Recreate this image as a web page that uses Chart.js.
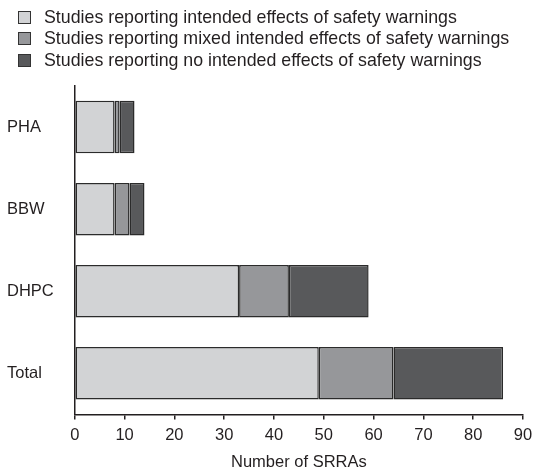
<!DOCTYPE html>
<html>
<head>
<meta charset="utf-8">
<script src="https://cdn.jsdelivr.net/npm/chart.js@4"></script>
<style>
    html, body { margin: 0; padding: 0; background: #fff; }
    #wrap { position: relative; width: 534px; height: 472px; }
    #legend { position: absolute; left: 18px; top: 7px; font: 17.8px "Liberation Sans", Arial, sans-serif; color: #231f20; }
    .leg-row { height: 21.3px; line-height: 21.3px; white-space: nowrap; display: flex; align-items: center; }
    .leg-box { width: 11px; height: 11px; border: 1px solid #333; margin-right: 13px; box-sizing: content-box; }
</style>
</head>
<body>
<div id="wrap">
    <canvas id="chart" width="534" height="472"></canvas>
    <div id="legend"></div>
</div>
<script>
// Data
const categories = ['PHA', 'BBW', 'DHPC', 'Total'];
const seriesNames = [
    'Studies reporting intended effects of safety warnings',
    'Studies reporting mixed intended effects of safety warnings',
    'Studies reporting no intended effects of safety warnings'
];
const intended = [8, 8, 33, 49];
const mixed = [1, 3, 10, 15];
const noEffect = [3, 3, 16, 22];
const xTicks = [0, 10, 20, 30, 40, 50, 60, 70, 80, 90];

const colors = ['#d2d3d5', '#96979a', '#58595b'];
const ink = '#231f20';
const font = { family: '"Liberation Sans", Arial, sans-serif', size: 16.5 };

const chart = {
    build() {
        const values = [intended, mixed, noEffect];
        const datasets = values.map((v, i) => ({
            label: seriesNames[i],
            data: v,
            backgroundColor: colors[i],
            borderColor: '#2b2b2b',
            borderWidth: 1.5,
            borderSkipped: false,
            barPercentage: 0.64,
            categoryPercentage: 1
        }));

        new Chart(document.getElementById('chart'), {
            type: 'bar',
            data: { labels: categories, datasets },
            options: {
                indexAxis: 'y',
                responsive: false,
                animation: false,
                layout: { padding: { top: 86, left: 7, right: 0, bottom: 0 } },
                plugins: {
                    legend: { display: false },
                    tooltip: { enabled: false }
                },
                scales: {
                    x: {
                        stacked: true,
                        min: xTicks[0],
                        max: xTicks[xTicks.length - 1],
                        afterBuildTicks(axis) { axis.ticks = xTicks.map(v => ({ value: v })); },
                        afterFit(axis) { axis.paddingRight = 11; },
                        border: { color: ink, width: 1.5 },
                        grid: { drawOnChartArea: false, drawTicks: true, tickLength: 5, color: ink, lineWidth: 1.5 },
                        ticks: { color: ink, font, padding: 6, maxRotation: 0 },
                        title: { display: true, text: 'Number of SRRAs', color: ink, font, padding: { top: 1, bottom: 0 } }
                    },
                    y: {
                        stacked: true,
                        border: { color: ink, width: 1.5 },
                        grid: { display: false, drawTicks: false },
                        ticks: { color: ink, font, crossAlign: 'far', padding: 10.5 }
                    }
                }
            }
        });

        const legend = document.getElementById('legend');
        legend.innerHTML = seriesNames.map((name, i) => `
            <div class="leg-row"><span class="leg-box" style="background:${colors[i]}"></span>${name}</div>
        `).join('');
    }
};

chart.build();
</script>
</body>
</html>
